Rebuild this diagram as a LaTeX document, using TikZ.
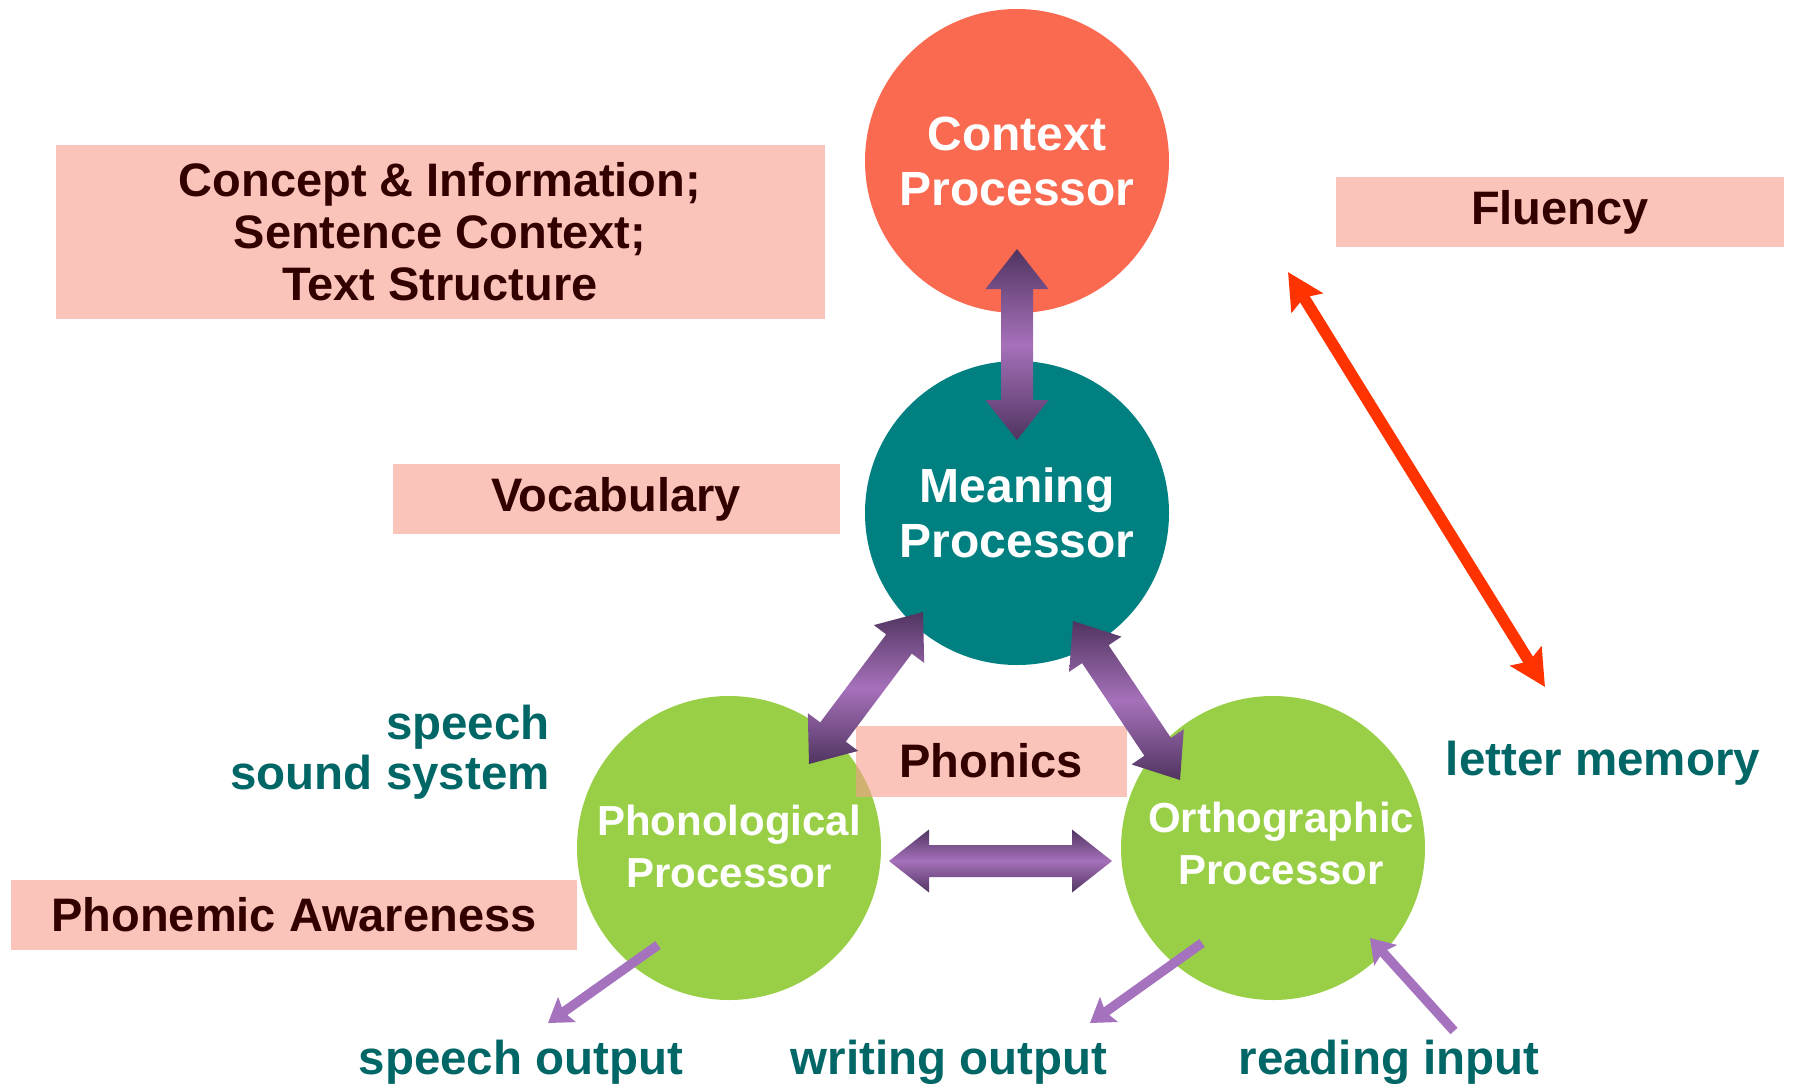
\documentclass[tikz,border=0pt]{standalone}
\usepackage{fontspec}
\setmainfont{Liberation Sans}
\usetikzlibrary{arrows.meta, calc, positioning}

\definecolor{ctxred}{RGB}{250,106,80}
\definecolor{meanteal}{RGB}{0,128,128}
\definecolor{procgreen}{RGB}{153,207,70}
\definecolor{boxpink}{RGB}{247,157,140}
\definecolor{boxtext}{RGB}{51,0,0}
\definecolor{labteal}{RGB}{0,102,102}
\definecolor{arrdark}{RGB}{80,52,96}
\definecolor{arrlight}{RGB}{166,113,186}
\definecolor{thinpurple}{RGB}{165,115,190}
\definecolor{flured}{RGB}{255,51,0}

% fat double arrow between two named coordinates
\newcommand{\blockarrow}[2]{%
  \shade[bigarrow] (#1)
    -- ($(#1)!40pt!(#2)!31.5pt!90:(#2)$) -- ($(#1)!40pt!(#2)!16pt!90:(#2)$)
    -- ($(#2)!40pt!(#1)!16pt!-90:(#1)$) -- ($(#2)!40pt!(#1)!31.5pt!-90:(#1)$)
    -- (#2)
    -- ($(#2)!40pt!(#1)!31.5pt!90:(#1)$) -- ($(#2)!40pt!(#1)!16pt!90:(#1)$)
    -- ($(#1)!40pt!(#2)!16pt!-90:(#2)$) -- ($(#1)!40pt!(#2)!31.5pt!-90:(#2)$)
    -- cycle;}

\begin{document}
\begin{tikzpicture}[x=1pt, y=-1pt]
        \tikzstyle{processor} = [circle, minimum size=304pt, inner sep=0pt, align=center, text=white, font=\bfseries\fontsize{48}{55}\selectfont]
        \tikzstyle{smallproc} = [processor, font=\bfseries\fontsize{42}{52}\selectfont]
        \tikzstyle{topic} = [rectangle, inner sep=0pt, align=center, fill=boxpink, fill opacity=0.6, text opacity=1, text=boxtext, font=\bfseries\fontsize{47}{52}\selectfont]
        \tikzstyle{label} = [inner sep=0pt, text=labteal, font=\bfseries\fontsize{47.5}{50}\selectfont]
        \tikzstyle{bigarrow} = [top color=arrdark, bottom color=arrdark, middle color=arrlight]
        \tikzstyle{io} = [line width=9.5pt, draw=thinpurple, -{Stealth[length=23pt, width=30pt, inset=4pt]}]
        \tikzstyle{fluarrow} = [line width=11.5pt, draw=flured, {Stealth[length=36pt, width=36pt, inset=6pt]}-{Stealth[length=36pt, width=36pt, inset=6pt]}]

        \useasboundingbox (0,0) rectangle (1802,1085);

        \node (ctx) [processor, fill=ctxred] at (1017,161) {Context\\Processor};
        \node (mean) [processor, fill=meanteal] at (1017,513) {Meaning\\Processor};
        \node (phon) [smallproc, fill=procgreen] at (729,848) {};
        \node (orth) [smallproc, fill=procgreen] at (1273,848) {};
        \node (phontext) [smallproc, minimum size=0pt] at (729,846) {Phonological\\Processor};
        \node (orthtext) [smallproc, minimum size=0pt] at (1281,843) {Orthographic\\Processor};

        \node (concept) [topic, minimum width=769pt, minimum height=174pt] at (440,232) {Concept \& Information;\\Sentence Context;\\Text Structure};
        \node (fluency) [topic, minimum width=448pt, minimum height=70pt] at (1560,212) {Fluency};
        \node (vocab) [topic, minimum width=447pt, minimum height=70pt] at (616,499) {Vocabulary};
        \node (phonics) [topic, minimum width=271pt, minimum height=71pt] at (991,761) {Phonics};
        \node (awareness) [topic, minimum width=566pt, minimum height=70pt] at (294,915) {Phonemic Awareness};

        \node (sound) [label, align=right, anchor=east] at (550,752) {speech\\sound system};
        \node (letter) [label] at (1603,763) {letter memory};
        \node (spout) [label] at (521,1062) {speech output};
        \node (wrout) [label] at (949,1062) {writing output};
        \node (rdin) [label] at (1389,1062) {reading input};

        \coordinate (vtop) at (1017,249);
        \coordinate (vbot) at (1017,440);
        \coordinate (lup) at (923,612);
        \coordinate (ldown) at (809,764);
        \coordinate (rup) at (1073,621);
        \coordinate (rdown) at (1180,780);
        \coordinate (hleft) at (889,861);
        \coordinate (hright) at (1112,861);

        \blockarrow{vtop}{vbot}
        \blockarrow{lup}{ldown}
        \blockarrow{rup}{rdown}
        \blockarrow{hleft}{hright}

        \coordinate (phonout) at (658,945);
        \coordinate (spend) at (548,1023);
        \coordinate (orthout) at (1202,943);
        \coordinate (wrend) at (1090,1023);
        \coordinate (rdstart) at (1454,1031);
        \coordinate (orthin) at (1370,938);
        \draw [io] (phonout) -- (spend);
        \draw [io] (orthout) -- (wrend);
        \draw [io] (rdstart) -- (orthin);

        \coordinate (fluA) at (1288,272);
        \coordinate (fluB) at (1545,687);
        \draw [fluarrow] (fluA) -- (fluB);
    \end{tikzpicture}
\end{document}
